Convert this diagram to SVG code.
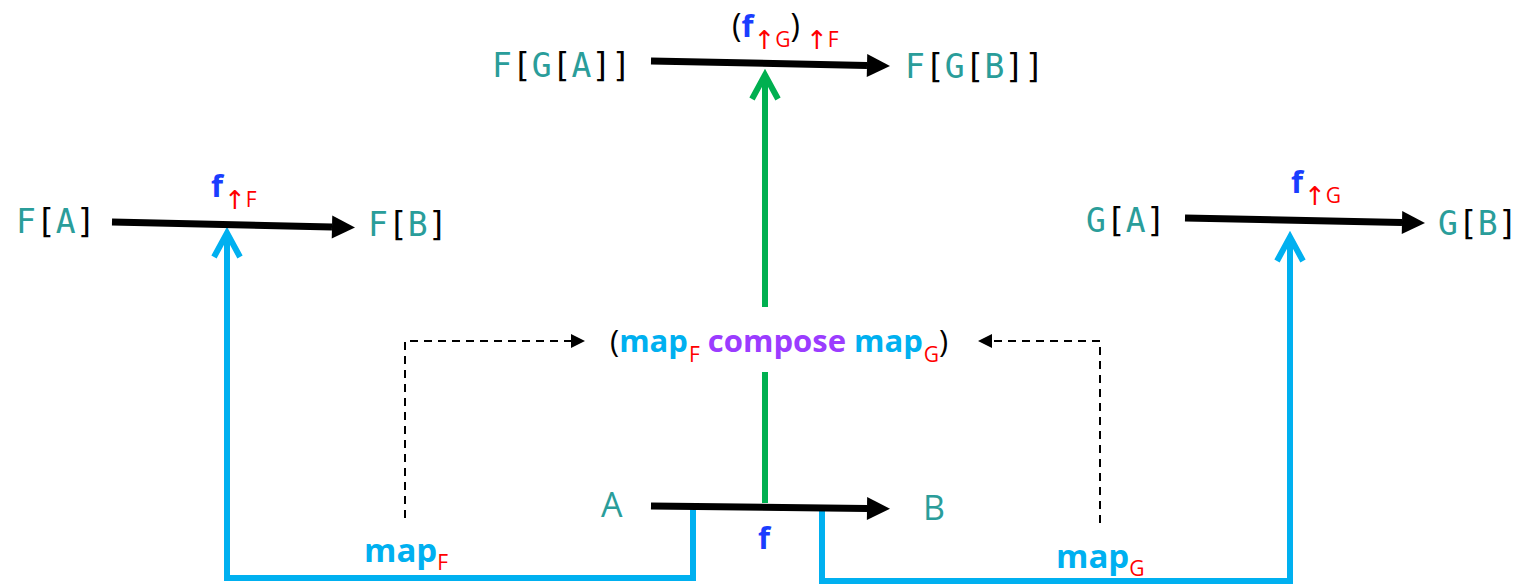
<svg xmlns="http://www.w3.org/2000/svg" width="1519" height="587" viewBox="0 0 1519 587">
<style>
.mono{font-family:"DejaVu Sans Mono","Liberation Mono",monospace;font-size:33px}
.t{fill:#2A9D9A}
.k{fill:#000}
.sans{font-family:"Open Sans","DejaVu Sans",sans-serif}
.fb{font-weight:bold;fill:#1A3DFF;font-size:31px}
.sub{fill:#FF0000;font-size:21px;font-weight:normal}
.ar{font-size:26px}
.mapc{fill:#00B0F0;font-weight:bold}
.comp{fill:#9B3CFF;font-weight:bold}
.par{fill:#000;font-weight:normal}
.blk{stroke:#000;stroke-width:7;fill:none}
.blue{stroke:#00B0F0;stroke-width:6;fill:none}
.green{stroke:#00B050;stroke-width:6;fill:none}
.dash{stroke:#000;stroke-width:2;fill:none;stroke-dasharray:8 6}
</style>
<defs>
<marker id="hb" markerUnits="userSpaceOnUse" markerWidth="26" markerHeight="26" viewBox="0 -13 26 26" refX="0" refY="0" orient="auto" overflow="visible"><path d="M0,-11.5 L23,0 L0,11.5 Z" fill="#000"/></marker>
<marker id="hd" markerUnits="userSpaceOnUse" markerWidth="16" markerHeight="16" viewBox="0 -8 16 16" refX="0" refY="0" orient="auto" overflow="visible"><path d="M0,-7 L14,0 L0,7 Z" fill="#000"/></marker>
<marker id="hcb" markerUnits="userSpaceOnUse" markerWidth="40" markerHeight="40" viewBox="-30 -20 40 40" refX="0" refY="0" orient="auto" overflow="visible"><path d="M-24,-13 L0,0 L-24,13" fill="none" stroke="#00B0F0" stroke-width="6"/></marker>
<marker id="hcg" markerUnits="userSpaceOnUse" markerWidth="40" markerHeight="40" viewBox="-30 -20 40 40" refX="0" refY="0" orient="auto" overflow="visible"><path d="M-24,-13 L0,0 L-24,13" fill="none" stroke="#00B050" stroke-width="6"/></marker>
</defs>
<rect width="1519" height="587" fill="#fff"/>
<g id="connectors">
<path class="blue" d="M693,508 V578 H227 V233" marker-end="url(#hcb)"/>
<path class="blue" d="M822,511 V581 H1290 V237" marker-end="url(#hcb)"/>
<path class="green" d="M765,372 V503"/>
<path class="green" d="M765,307 V75" marker-end="url(#hcg)"/>
<path class="dash" d="M405,518 V341 H571" marker-end="url(#hd)"/>
<path class="dash" d="M1100,523 V341 H992" marker-end="url(#hd)"/>
<path class="blk" d="M651,61 L867,65.5" marker-end="url(#hb)"/>
<path class="blk" d="M112,222 L332,227" marker-end="url(#hb)"/>
<path class="blk" d="M1185,218 L1402,222.5" marker-end="url(#hb)"/>
<path class="blk" d="M651,506 L867,508.5" marker-end="url(#hb)"/>
</g>
<g id="node-FGA"><text class="mono" x="492" y="77"><tspan class="t">F</tspan><tspan class="k">[</tspan><tspan class="t">G</tspan><tspan class="k">[</tspan><tspan class="t">A</tspan><tspan class="k">]]</tspan></text></g>
<g id="node-FGB"><text class="mono" x="905" y="78"><tspan class="t">F</tspan><tspan class="k">[</tspan><tspan class="t">G</tspan><tspan class="k">[</tspan><tspan class="t">B</tspan><tspan class="k">]]</tspan></text></g>
<g id="label-fGF"><text class="sans" x="732" y="37"><tspan class="par" font-size="32">(</tspan><tspan class="fb">f</tspan><tspan class="sub ar" dy="12">↑</tspan><tspan class="sub" dy="-2">G</tspan><tspan class="par" font-size="32" dy="-10">)</tspan><tspan class="sub ar" dx="6" dy="12">↑</tspan><tspan class="sub" dy="-2">F</tspan></text></g>
<g id="node-FA"><text class="mono" x="16" y="233"><tspan class="t">F</tspan><tspan class="k">[</tspan><tspan class="t">A</tspan><tspan class="k">]</tspan></text></g>
<g id="node-FB"><text class="mono" x="368" y="236"><tspan class="t">F</tspan><tspan class="k">[</tspan><tspan class="t">B</tspan><tspan class="k">]</tspan></text></g>
<g id="label-fF"><text class="sans" x="211" y="197"><tspan class="fb">f</tspan><tspan class="sub ar" dx="1" dy="12">↑</tspan><tspan class="sub" dy="-2">F</tspan></text></g>
<g id="node-GA"><text class="mono" x="1086" y="232"><tspan class="t">G</tspan><tspan class="k">[</tspan><tspan class="t">A</tspan><tspan class="k">]</tspan></text></g>
<g id="node-GB"><text class="mono" x="1438" y="235"><tspan class="t">G</tspan><tspan class="k">[</tspan><tspan class="t">B</tspan><tspan class="k">]</tspan></text></g>
<g id="label-fG"><text class="sans" x="1291" y="193"><tspan class="fb">f</tspan><tspan class="sub ar" dx="1" dy="12">↑</tspan><tspan class="sub" dy="-2">G</tspan></text></g>
<g id="node-compose"><text class="sans" x="610" y="352" font-size="31"><tspan class="par">(</tspan><tspan class="mapc">map</tspan><tspan class="sub" dx="1" dy="10">F</tspan><tspan class="comp" dy="-10"> compose </tspan><tspan class="mapc">map</tspan><tspan class="sub" dx="1" dy="10">G</tspan><tspan class="par" dy="-10">)</tspan></text></g>
<g id="node-A"><text class="sans t" x="601" y="517" font-size="34">A</text></g>
<g id="node-B"><text class="sans t" x="923" y="520" font-size="34">B</text></g>
<g id="label-f"><text class="sans fb" x="758" y="549" font-size="34">f</text></g>
<g id="label-mapF"><text class="sans" x="364" y="562" font-size="33"><tspan class="mapc">map</tspan><tspan class="sub" dy="8">F</tspan></text></g>
<g id="label-mapG"><text class="sans" x="1056" y="568" font-size="33"><tspan class="mapc">map</tspan><tspan class="sub" dy="8">G</tspan></text></g>
</svg>
